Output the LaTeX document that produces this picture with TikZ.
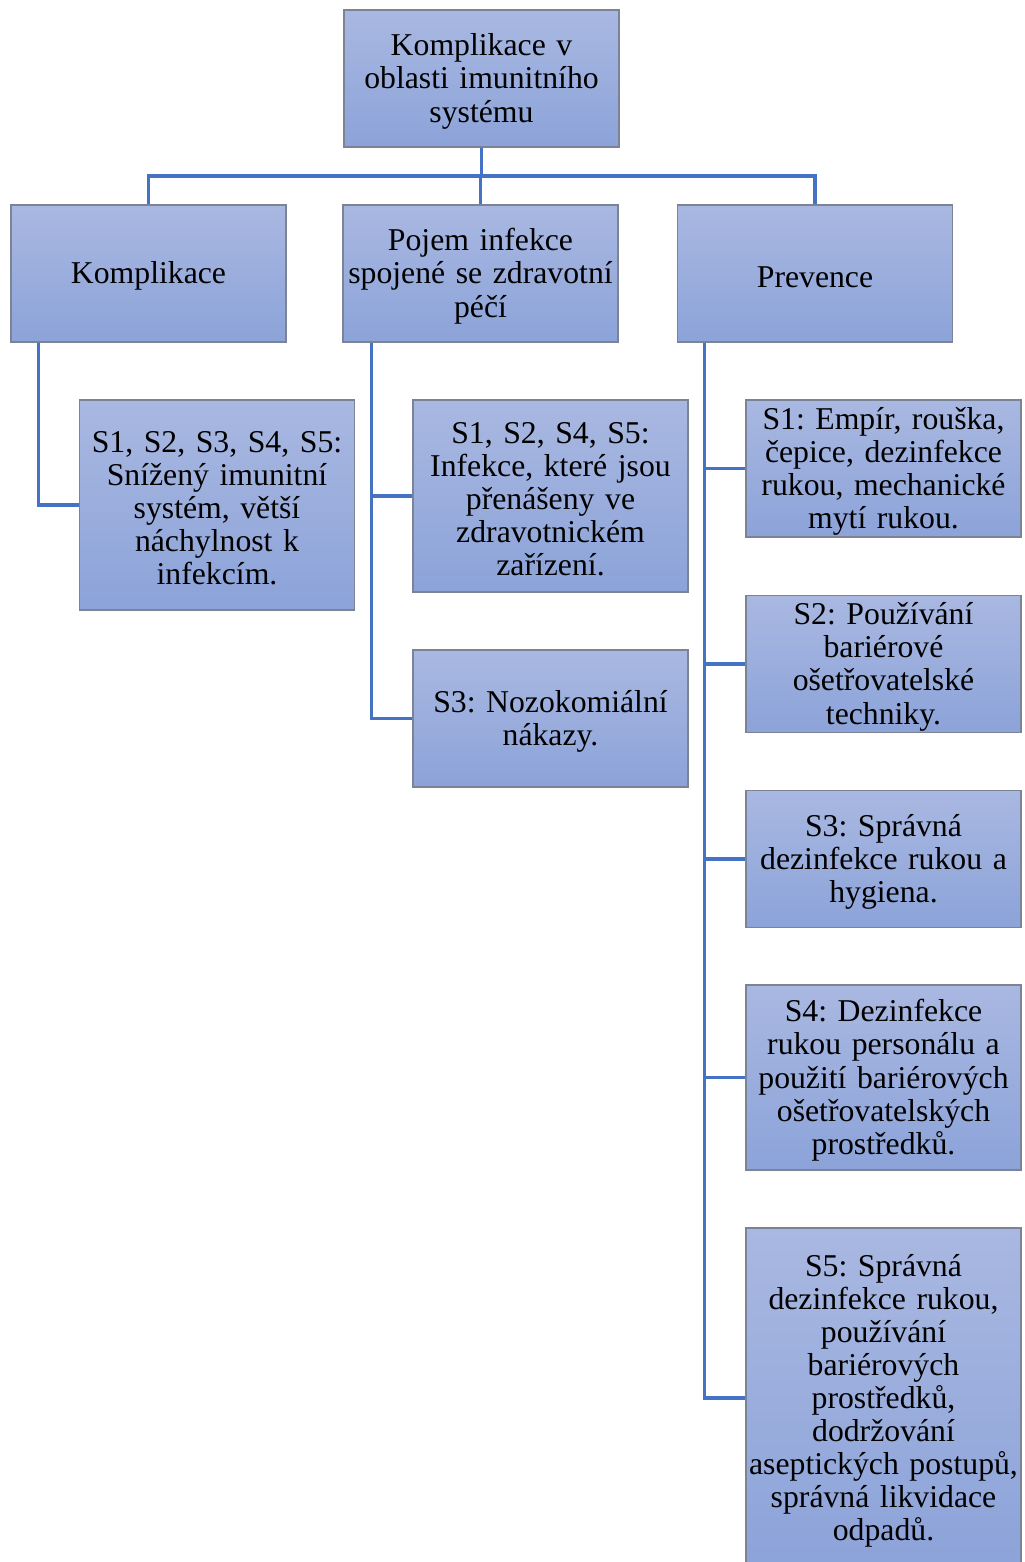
\documentclass[tikz,border=0pt]{standalone}
\usepackage{fontspec}
\setmainfont{Liberation Serif}
\frenchspacing
\definecolor{boxtop}{HTML}{A9B8E1}
\definecolor{boxbot}{HTML}{8CA3D9}
\definecolor{boxline}{HTML}{7C8394}
\definecolor{link}{HTML}{4472C4}
\begin{document}
\begin{tikzpicture}[x=0.75pt,y=-0.75pt,
  card/.style={draw=boxline,line width=1.1pt,top color=boxtop,bottom color=boxbot,
    shading angle=0,inner sep=0pt,minimum width=206pt,text width=205pt,align=center,
    font=\fontsize{23.8}{24.8}\selectfont,
    execute at begin node={\vrule width 0pt height 20.8pt\relax}},
  link/.style={draw=link,line width=2.3pt}]
\useasboundingbox (0,0) rectangle (1024,1562);
% root and the three main branches
\node[card,minimum height=103pt] (root) at (481.5,78.5) {Komplikace v\\oblasti imunitního\\systému};
\node[card,minimum height=103pt] (kom) at (148.5,273.5) {Komplikace};
\node[card,minimum height=103pt] (poj) at (480.5,273.5) {Pojem infekce\\spojené se zdravotní\\péčí};
\node[card,minimum height=103pt] (pre) at (815,273.5) {Prevence};
% Komplikace
\node[card,minimum height=157.5pt] (k1) at (217,505) {S1, S2, S3, S4, S5:\\Snížený imunitní\\systém, větší\\náchylnost k\\infekcím.};
% Pojem infekce
\node[card,minimum height=144pt] (p1) at (550.5,496) {S1, S2, S4, S5:\\Infekce, které jsou\\přenášeny ve\\zdravotnickém\\zařízení.};
\node[card,minimum height=103pt] (p2) at (550.5,718.5) {S3: Nozokomiální\\nákazy.};
% Prevence
\node[card,minimum height=103pt] (v1) at (883.5,468.5) {S1: Empír, rouška,\\čepice, dezinfekce\\rukou, mechanické\\mytí rukou.};
\node[card,minimum height=103pt] (v2) at (883.5,664) {S2: Používání\\bariérové\\ošetřovatelské\\techniky.};
\node[card,minimum height=103pt] (v3) at (883.5,859) {S3: Správná\\dezinfekce rukou a\\hygiena.};
\node[card,minimum height=139pt] (v4) at (883.5,1077.5) {S4: Dezinfekce\\rukou personálu a\\použití bariérových\\ošetřovatelských\\prostředků.};
\node[card,minimum height=255pt] (v5) at (883.5,1398) {S5: Správná\\dezinfekce rukou,\\používání\\bariérových\\prostředků,\\dodržování\\aseptických postupů,\\správná likvidace\\odpadů.};
% connectors
\coordinate (bus) at (0,176);
\draw[link] (root.south) -- (root.south |- bus);
\draw[link] (kom.north) -- (kom.north |- bus) -| (pre.north);
\draw[link] (poj.north) -- (poj.north |- bus);
\coordinate (ks) at ([xshift=21pt]kom.south west);
\coordinate (ps) at ([xshift=21.5pt]poj.south west);
\coordinate (vs) at ([xshift=20.5pt]pre.south west);
\draw[link] (ks) |- (k1.west);
\draw[link] (ps) |- (p2.west);
\draw[link] (ps |- p1.west) -- (p1.west);
\draw[link] (vs) |- (v5.west);
\foreach \n in {v1,v2,v3,v4} \draw[link] (vs |- \n.west) -- (\n.west);
\end{tikzpicture}
\end{document}
